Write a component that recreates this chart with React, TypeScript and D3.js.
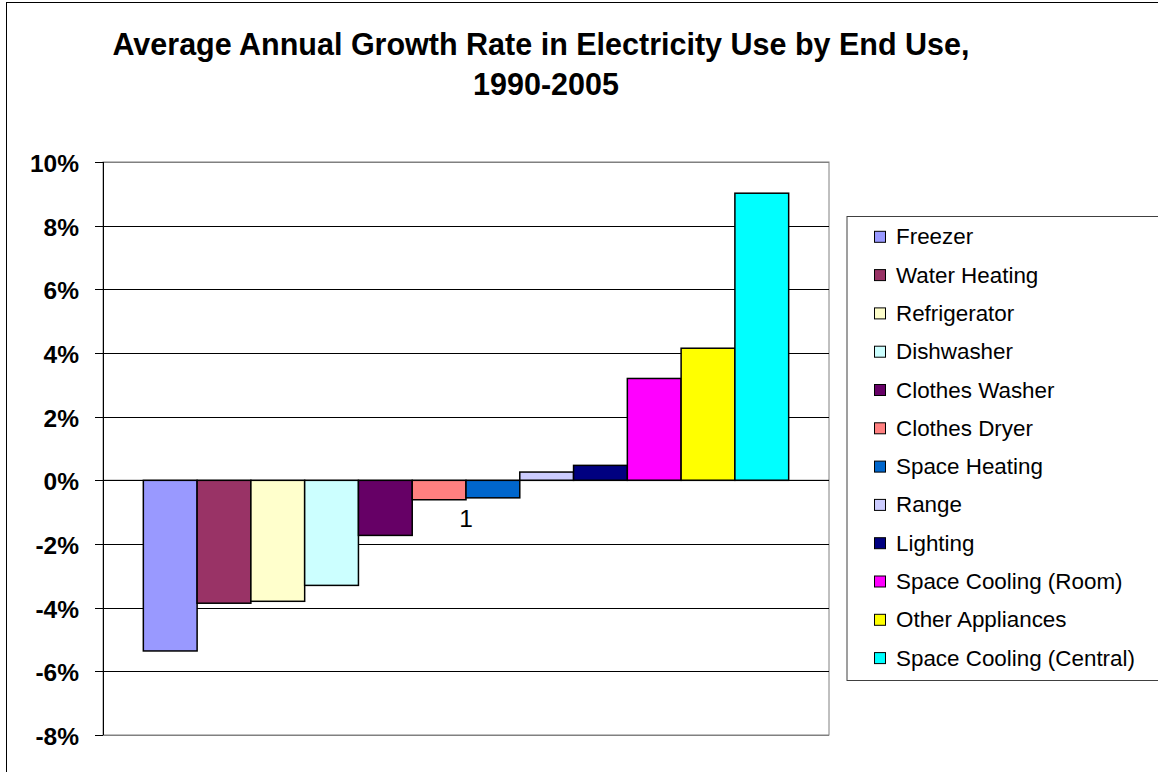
import React from "react";
import * as d3 from "d3";

const categories = ["1"];
const seriesNames = [
  "Freezer",
  "Water Heating",
  "Refrigerator",
  "Dishwasher",
  "Clothes Washer",
  "Clothes Dryer",
  "Space Heating",
  "Range",
  "Lighting",
  "Space Cooling (Room)",
  "Other Appliances",
  "Space Cooling (Central)",
];
const seriesValues = [-5.36, -3.86, -3.8, -3.3, -1.73, -0.61, -0.55, 0.26, 0.47, 3.2, 4.15, 9.02];
const seriesColors = [
  "#9999FF", "#993366", "#FFFFCC", "#CCFFFF", "#660066", "#FF8080",
  "#0066CC", "#CCCCFF", "#000080", "#FF00FF", "#FFFF00", "#00FFFF",
];
const yTicks = [-8, -6, -4, -2, 0, 2, 4, 6, 8, 10];
const titleLines = ["Average Annual Growth Rate in Electricity Use by End Use,", "1990-2005"];

export default function App() {
  const W = 1158, H = 772;
  const plotL = 103, plotR = 829, plotT = 162, plotB = 735;
  const y = d3.scaleLinear().domain([-8, 10]).range([plotB, plotT]);
  const xCat = d3.scaleBand<string>().domain(categories).range([plotL, plotR]).paddingInner(0).paddingOuter(0);
  const cat = categories[0];
  const catX0 = xCat(cat)!;
  const x = d3.scaleBand<string>().domain(seriesNames).range([catX0, catX0 + xCat.bandwidth()]).paddingInner(0).paddingOuter(0.75);
  const legendX = 847, legendT = 216.5, legendB = 680.5;
  const rowY = (i: number) => 236.8 + i * 38.3;
  const font = "Arial, 'Liberation Sans', sans-serif";

  return (
    <svg width={W} height={H} style={{ position: "absolute", left: 0, top: 0, background: "#fff" }} fontFamily={font}>
      <rect x={6.5} y={2.5} width={W + 10} height={H + 10} fill="#fff" stroke="#000" strokeWidth={1} />
      {titleLines.map((t, i) => (
        <text key={i} x={i === 0 ? 541 : 546} y={55 + i * 40} textAnchor="middle" fontWeight="bold" fontSize={30.5} fill="#000">{t}</text>
      ))}
      {/* plot area */}
      <rect x={plotL} y={plotT} width={plotR - plotL} height={plotB - plotT} fill="#fff" stroke="#808080" strokeWidth={1} />
      {yTicks.map((t) => (
        <g key={t}>
          <line x1={plotL} x2={plotR} y1={Math.round(y(t)) + 0.5} y2={Math.round(y(t)) + 0.5} stroke={t === 10 || t === -8 ? "#808080" : "#000"} strokeWidth={1} />
          <line x1={95} x2={plotL} y1={Math.round(y(t)) + 0.5} y2={Math.round(y(t)) + 0.5} stroke="#000" strokeWidth={1} />
          <text x={79} y={y(t) + 10} textAnchor="end" fontWeight="bold" fontSize={24.5} fill="#000">{`${t}%`}</text>
        </g>
      ))}
      <line x1={plotL + 0.5} x2={plotL + 0.5} y1={plotT} y2={plotB} stroke="#000" strokeWidth={1} />
      {seriesNames.map((s, i) => {
        const v = seriesValues[i];
        const y0 = y(Math.max(0, v)), y1 = y(Math.min(0, v));
        return (
          <rect key={s} x={x(s)!} y={y0} width={x.bandwidth()} height={y1 - y0} fill={seriesColors[i]} stroke="#000" strokeWidth={1.5} />
        );
      })}
      <line x1={plotL} x2={plotR} y1={y(0)} y2={y(0)} stroke="#000" strokeWidth={1} />
      <text x={catX0 + xCat.bandwidth() / 2} y={527} textAnchor="middle" fontSize={24.5} fill="#000">{cat}</text>
      {/* legend */}
      <rect x={legendX} y={legendT} width={W - legendX + 20} height={legendB - legendT} fill="#fff" stroke="#404040" strokeWidth={1} />
      {seriesNames.map((s, i) => (
        <g key={s}>
          <rect x={874.5} y={rowY(i) - 5.5} width={11} height={11} fill={seriesColors[i]} stroke="#000" strokeWidth={1} />
          <text x={896} y={rowY(i) + 7.5} fontSize={22.4} fill="#000">{s}</text>
        </g>
      ))}
    </svg>
  );
}
